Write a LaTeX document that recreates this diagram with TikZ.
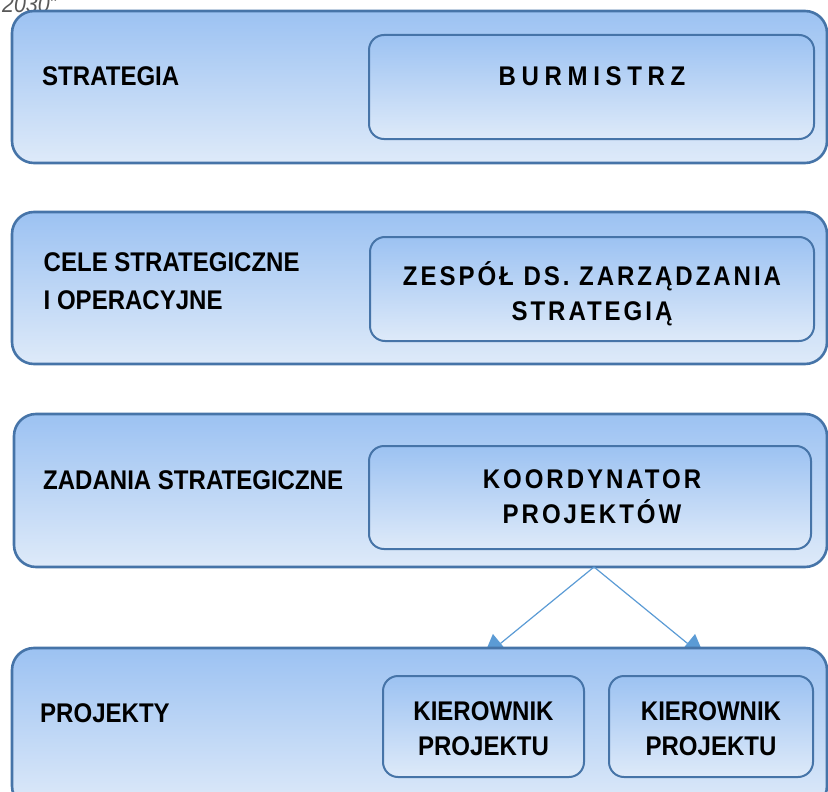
\documentclass[tikz,border=0pt]{standalone}
\usepackage{fontspec}
\newfontfamily\chartfont{Liberation Sans}[FakeStretch=0.89]
\usetikzlibrary{arrows.meta}
\definecolor{bandtop}{RGB}{156,194,242}
\definecolor{bandbot}{RGB}{222,234,249}
\definecolor{bandline}{RGB}{70,116,168}
\definecolor{linkblue}{RGB}{91,155,213}
\definecolor{notegray}{RGB}{89,89,89}
\tikzset{
	band/.style={draw=bandline, line width=2.6pt, rounded corners=22pt, top color=bandtop, bottom color=bandbot, inner sep=0pt},
	unit/.style={draw=bandline, line width=2pt, rounded corners=15pt, top color=bandtop, bottom color=bandbot, inner sep=0pt},
	lvl/.style={font=\chartfont\bfseries\fontsize{27}{37.5}\selectfont, inner sep=0pt, align=left, anchor=base west},
	who/.style={font=\chartfont\bfseries\fontsize{27}{35}\selectfont, inner sep=0pt, align=center, anchor=base},
	whospaced/.style={who, font=\chartfont\bfseries\fontsize{27}{35}\selectfont\addfontfeatures{LetterSpace=11}},
	whowide/.style={who, font=\chartfont\bfseries\fontsize{27}{35}\selectfont\addfontfeatures{LetterSpace=21}},
	link/.style={draw=linkblue, line width=1.2pt, -{Triangle[length=23pt,width=24pt]}}
}

\begin{document}
\begin{tikzpicture}[x=1pt, y=-1pt]
		%%%%% START %%%%%
		\useasboundingbox (0,0) rectangle (828,792);
		
		\node[font=\chartfont\itshape\fontsize{24}{28}\selectfont, text=notegray, inner sep=0pt, anchor=base east] (rok) at (57,13) {2030”};
		
		% level 1
		\node[band, minimum width=815pt, minimum height=152pt] (strat) at (419.5,87) {};
		\node[unit, minimum width=445pt, minimum height=104pt] (burm) at (591.5,87) {};
		\node[lvl] (tstrat) at (42,85.5) {STRATEGIA};
		\node[whowide] (tburm) at (592,86) {BURMISTRZ};
		
		% level 2
		\node[band, minimum width=815pt, minimum height=152pt] (cele) at (419.5,288) {};
		\node[unit, minimum width=444pt, minimum height=104pt] (zesp) at (592,289) {};
		\node[lvl] (tcele) at (43.5,309.3) {CELE STRATEGICZNE\\I OPERACYJNE};
		\node[whospaced] (tzesp) at (592,320) {ZESPÓŁ DS. ZARZĄDZANIA\\STRATEGIĄ};
		
		% level 3
		\node[band, minimum width=813pt, minimum height=153pt] (zad) at (420.5,490.5) {};
		\node[unit, minimum width=442pt, minimum height=103pt] (koord) at (590,497.5) {};
		\node[lvl] (tzad) at (43,489.3) {ZADANIA STRATEGICZNE};
		\node[whospaced] (tkoord) at (592,523.3) {KOORDYNATOR\\PROJEKTÓW};
		
		% arrows go under level 4
		\coordinate (fork) at (594,567);
		\coordinate (tipl) at (482.8,657.9);
		\coordinate (tipr) at (705.2,657.9);
		\draw[link] (fork) -- (tipl);
		\draw[link] (fork) -- (tipr);
		
		% level 4
		\node[band, minimum width=815pt, minimum height=160pt] (proj) at (419.5,728) {};
		\node[unit, minimum width=201pt, minimum height=101pt] (kier1) at (483.5,726.5) {};
		\node[unit, minimum width=204pt, minimum height=101pt] (kier2) at (711,726.5) {};
		\node[lvl] (tproj) at (40,722.3) {PROJEKTY};
		\node[who] (tkier1) at (483.5,755) {KIEROWNIK\\PROJEKTU};
		\node[who] (tkier2) at (711,755) {KIEROWNIK\\PROJEKTU};
		
		%%%%% END %%%%%
	\end{tikzpicture}
\end{document}
